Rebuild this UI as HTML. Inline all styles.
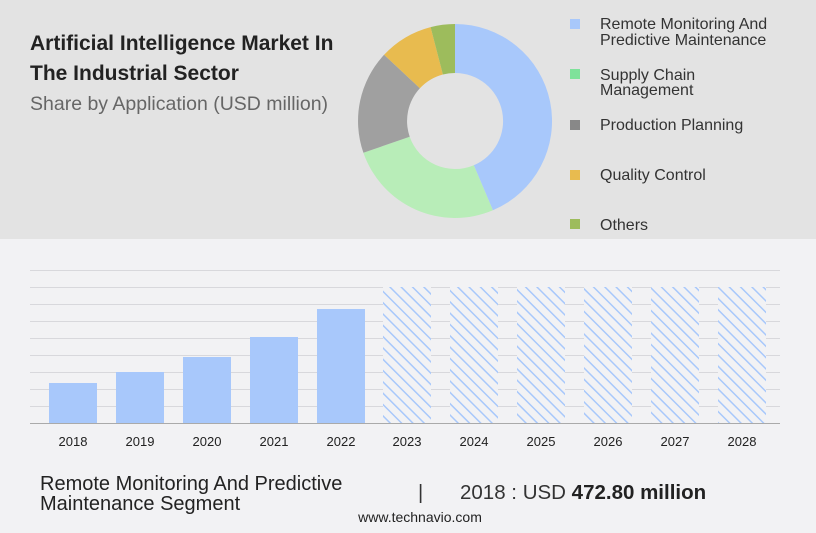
<!DOCTYPE html><html><head><style>
body{margin:0;width:816px;height:528px;overflow:hidden;font-family:"Liberation Sans",sans-serif;background:#f2f2f4}
</style></head><body>
<svg width="816" height="528" xmlns="http://www.w3.org/2000/svg" font-family="Liberation Sans, sans-serif">
<defs><pattern id="h" patternUnits="userSpaceOnUse" width="8" height="8" patternTransform="rotate(-45)"><rect width="8" height="8" fill="#f2f2f4"/><rect width="1.5" height="8" fill="#a8c8fb"/></pattern></defs>
<rect width="816" height="239" fill="#e3e3e3"/>
<text x="30" y="50" font-size="21" font-weight="bold" fill="#222">Artificial Intelligence Market In</text>
<text x="30" y="80" font-size="21" font-weight="bold" fill="#222">The Industrial Sector</text>
<text x="30" y="110" font-size="19.5" fill="#666">Share by Application (USD million)</text>
<g transform="translate(455,121)">
<path d="M0,-97 A97,97 0 0,1 37.9,89.3 L18.8,44.2 A48,48 0 0,0 0,-48Z" fill="#a8c8fb"/>
<path d="M37.9,89.3 A97,97 0 0,1 -91.6,31.8 L-45.3,15.7 A48,48 0 0,0 18.8,44.2Z" fill="#b8edb8"/>
<path d="M-91.6,31.8 A97,97 0 0,1 -70.9,-66.2 L-35.1,-32.7 A48,48 0 0,0 -45.3,15.7Z" fill="#a0a0a0"/>
<path d="M-70.9,-66.2 A97,97 0 0,1 -24.4,-93.9 L-12.1,-46.5 A48,48 0 0,0 -35.1,-32.7Z" fill="#e8bb4f"/>
<path d="M-24.4,-93.9 A97,97 0 0,1 0,-97 L0,-48 A48,48 0 0,0 -12.1,-46.5Z" fill="#9dbc5c"/>
</g>
<g font-size="16" fill="#333">
<rect x="570" y="19" width="10" height="10" fill="#a8c8fb"/><text x="600" y="29">Remote Monitoring And</text><text x="600" y="45">Predictive Maintenance</text>
<rect x="570" y="69" width="10" height="10" fill="#7ee29a"/><text x="600" y="80">Supply Chain</text><text x="600" y="95">Management</text>
<rect x="570" y="120" width="10" height="10" fill="#888"/><text x="600" y="130">Production Planning</text>
<rect x="570" y="170" width="10" height="10" fill="#e8bb4f"/><text x="600" y="180">Quality Control</text>
<rect x="570" y="219" width="10" height="10" fill="#9dbc5c"/><text x="600" y="230">Others</text>
</g>
<g stroke="#d8d8dc" stroke-width="1">
<line x1="30" x2="780" y1="270.5" y2="270.5"/><line x1="30" x2="780" y1="287.5" y2="287.5"/><line x1="30" x2="780" y1="304.5" y2="304.5"/><line x1="30" x2="780" y1="321.5" y2="321.5"/><line x1="30" x2="780" y1="338.5" y2="338.5"/><line x1="30" x2="780" y1="355.5" y2="355.5"/><line x1="30" x2="780" y1="372.5" y2="372.5"/><line x1="30" x2="780" y1="389.5" y2="389.5"/><line x1="30" x2="780" y1="406.5" y2="406.5"/>
</g>
<g fill="#a8c8fb">
<rect x="49" y="383" width="48" height="40"/><rect x="116" y="372" width="48" height="51"/><rect x="183" y="357" width="48" height="66"/><rect x="250" y="337" width="48" height="86"/><rect x="317" y="309" width="48" height="114"/>
</g>
<g fill="url(#h)">
<rect x="383" y="287" width="48" height="136"/><rect x="450" y="287" width="48" height="136"/><rect x="517" y="287" width="48" height="136"/><rect x="584" y="287" width="48" height="136"/><rect x="651" y="287" width="48" height="136"/><rect x="718" y="287" width="48" height="136"/>
</g>
<line x1="30" x2="780" y1="423.5" y2="423.5" stroke="#aaa"/>
<g font-size="13" fill="#222" text-anchor="middle">
<text x="73" y="446">2018</text><text x="140" y="446">2019</text><text x="207" y="446">2020</text><text x="274" y="446">2021</text><text x="341" y="446">2022</text><text x="407" y="446">2023</text><text x="474" y="446">2024</text><text x="541" y="446">2025</text><text x="608" y="446">2026</text><text x="675" y="446">2027</text><text x="742" y="446">2028</text>
</g>
<text x="40" y="490" font-size="20" fill="#222">Remote Monitoring And Predictive</text>
<text x="40" y="510" font-size="20" fill="#222">Maintenance Segment</text>
<text x="418" y="499" font-size="20" fill="#333">|</text>
<text x="460" y="499" font-size="20.5" fill="#333">2018 : USD <tspan font-weight="bold" fill="#222">472.80 million</tspan></text>
<text x="420" y="522" font-size="14" fill="#222" text-anchor="middle">www.technavio.com</text>
</svg>
</body></html>
